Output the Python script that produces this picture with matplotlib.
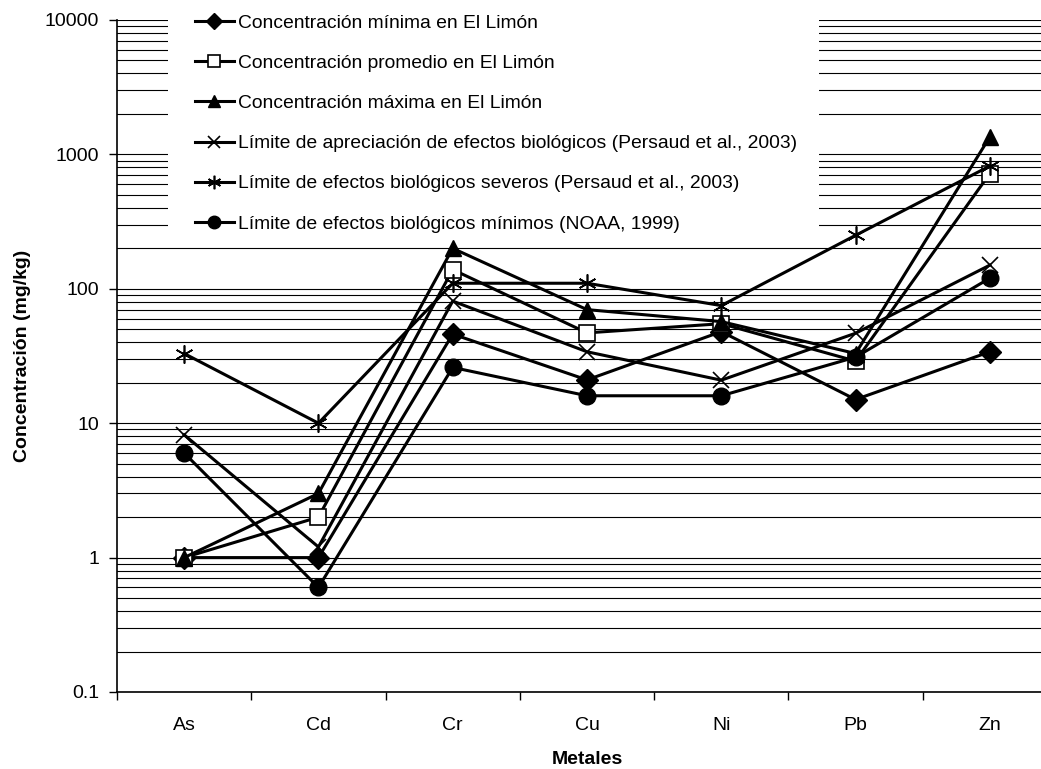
import matplotlib
matplotlib.use("Agg")
import matplotlib.pyplot as plt
from matplotlib.patches import Rectangle
from matplotlib.ticker import FixedLocator, NullFormatter, LogLocator

plt.rcParams['font.family'] = ['Liberation Sans', 'DejaVu Sans']

metales = ["As", "Cd", "Cr", "Cu", "Ni", "Pb", "Zn"]
conc_min = [1, 1, 46, 21, 48, 15, 34]
conc_prom = [1, 2, 139, 47, 55, 29, 720]
conc_max = [1, 3, 200, 70, 57, 33, 1350]
lim_apreciacion = [8.2, 1.2, 81, 34, 20.9, 46.7, 150]
lim_severos = [33, 10, 110, 110, 75, 250, 820]
lim_minimos = [6, 0.6, 26, 16, 16, 31, 120]

labels = [
    "Concentración mínima en El Limón",
    "Concentración promedio en El Limón",
    "Concentración máxima en El Limón",
    "Límite de apreciación de efectos biológicos (Persaud et al., 2003)",
    "Límite de efectos biológicos severos (Persaud et al., 2003)",
    "Límite de efectos biológicos mínimos (NOAA, 1999)",
]

W, H = 1041, 769
FS = 14
LFS = 13.9
fig = plt.figure(figsize=(W / 100, H / 100), dpi=100)
ax = fig.add_axes([117 / W, (H - 692) / H, 940 / W, 672 / H])

x = list(range(len(metales)))
styles = [
    dict(marker='D', ms=11, mfc='black', mec='black'),
    dict(marker='s', ms=11, mfc='white', mec='black', mew=1.2),
    dict(marker='^', ms=11, mfc='black', mec='black'),
    dict(marker='x', ms=12, mfc='black', mec='black', mew=1.2),
    dict(marker=(6, 2, 0), ms=13, mfc='black', mec='black', mew=1.2),
    dict(marker='o', ms=12, mfc='black', mec='black'),
]
series = [conc_min, conc_prom, conc_max, lim_apreciacion, lim_severos, lim_minimos]
for vals, st, lab in zip(series, styles, labels):
    ax.plot(x, vals, color='black', lw=2.2, label=lab, zorder=3, clip_on=False, **st)

ax.set_yscale('log')
ax.set_ylim(0.1, 10000)
ax.set_xlim(-0.5, 6.5)
ax.yaxis.set_major_locator(FixedLocator([0.1, 1, 10, 100, 1000, 10000]))
ax.set_yticklabels(["0.1", "1", "10", "100", "1000", "10000"])
ax.yaxis.set_minor_locator(LogLocator(base=10, subs=range(2, 10)))
ax.yaxis.set_minor_formatter(NullFormatter())
ax.tick_params(axis='y', which='minor', length=0)
ax.tick_params(axis='y', which='major', length=6, width=1, direction='out',
               labelsize=FS, pad=7)
ax.grid(True, axis='y', which='both', color='black', lw=0.8, zorder=0)
ax.set_axisbelow(True)

ax.set_xticks([i - 0.5 for i in range(8)])
ax.set_xticklabels([])
ax.set_xticks(x, minor=True)
ax.set_xticklabels(metales, minor=True)
ax.tick_params(axis='x', which='major', length=6, width=1, direction='out')
ax.tick_params(axis='x', which='minor', length=0, pad=18, labelsize=FS)

for s in ['top', 'right']:
    ax.spines[s].set_visible(False)
for s in ['left', 'bottom']:
    ax.spines[s].set_linewidth(1.2)

ax.set_xlabel("Metales", fontsize=FS, fontweight='bold', labelpad=12)
ax.set_ylabel("Concentración (mg/kg)", fontsize=FS, fontweight='bold', labelpad=10)

# white background of the legend area (covers gridlines, below data lines)
ax.add_patch(Rectangle((168 / W, (H - 243) / H), 651 / W, 243 / H,
                       transform=fig.transFigure, facecolor='white',
                       edgecolor='none', zorder=2, clip_on=False))

leg = fig.legend(loc='upper left', bbox_to_anchor=(195 / W, 1 - 14.5 / H), frameon=False,
                 fontsize=LFS, handlelength=2.0, handletextpad=0.25, labelspacing=1.17,
                 borderpad=0, borderaxespad=0, markerscale=0.75)
for h in leg.legend_handles:
    h.set_linewidth(2.2)
leg.set_zorder(10)

fig.savefig("out.png", dpi=100)
